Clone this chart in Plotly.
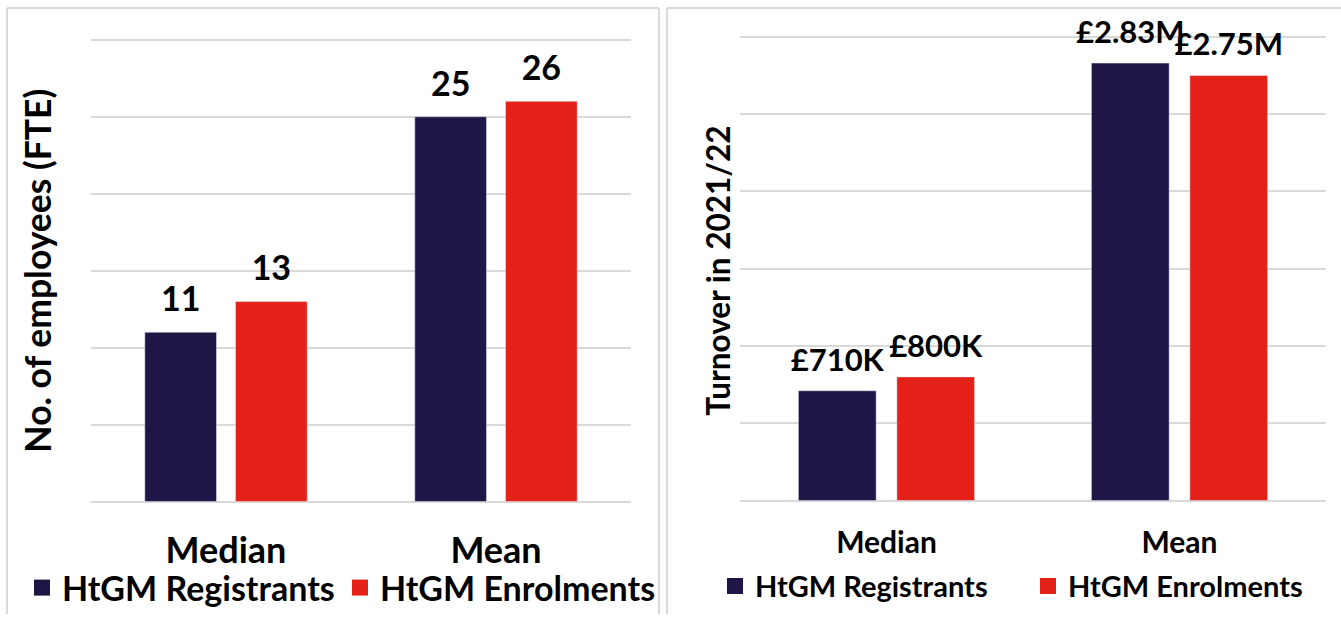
import plotly.graph_objects as go

categories = ["Median", "Mean"]
series_names = ["HtGM Registrants", "HtGM Enrolments"]

employees_registrants = [11, 25]
employees_enrolments = [13, 26]
employees_labels_registrants = ["11", "25"]
employees_labels_enrolments = ["13", "26"]

turnover_registrants = [710000, 2830000]
turnover_enrolments = [800000, 2750000]
turnover_labels_registrants = ["£710K", "£2.83M"]
turnover_labels_enrolments = ["£800K", "£2.75M"]

NAVY = "#1F1547"
RED = "#E32119"
GRID = "#D9D9D9"
FONT = "Lato"
BLACK = "#000000"

W, H = 1341, 617


def px_x(v):
    return v / W


def px_y(v):
    return 1 - v / H


def bold(size):
    return dict(family=FONT, size=size, color=BLACK, weight="bold")


fig = go.Figure()

panels = [
    ("x", "y", employees_registrants, employees_enrolments,
     employees_labels_registrants, employees_labels_enrolments, 34, 18.4),
    ("x2", "y2", turnover_registrants, turnover_enrolments,
     turnover_labels_registrants, turnover_labels_enrolments, 31, 18),
]

for xa, ya, v_reg, v_enr, l_reg, l_enr, fsize, msize in panels:
    for vals, col, nm in [(v_reg, NAVY, series_names[0]), (v_enr, RED, series_names[1])]:
        fig.add_trace(go.Bar(x=categories, y=vals, name=nm, marker_color=col,
                             showlegend=False, hoverinfo="x+y+name", xaxis=xa, yaxis=ya))
    # value labels, grouped to sit above their bars
    for vals, labels, nm in [(v_reg, l_reg, series_names[0]), (v_enr, l_enr, series_names[1])]:
        fig.add_trace(go.Scatter(x=categories, y=vals, text=labels, name=nm,
                                 mode="markers+text", orientation="v",
                                 textposition="top center", textfont=bold(fsize),
                                 marker=dict(size=msize, color="rgba(0,0,0,0)"),
                                 cliponaxis=False, showlegend=False, hoverinfo="skip",
                                 xaxis=xa, yaxis=ya))

# Legend entries (square swatches); orientation 'h' keeps them out of the vertical grouping
for leg, xa, ya in [("legend", "x", "y"), ("legend2", "x2", "y2")]:
    for nm, col in zip(series_names, [NAVY, RED]):
        fig.add_trace(go.Scatter(x=[None], y=[None], mode="markers", name=nm,
                                 orientation="h",
                                 marker=dict(symbol="square", size=16, color=col),
                                 xaxis=xa, yaxis=ya, legend=leg))

axis_common = dict(showline=False, zeroline=False, ticks="", fixedrange=True)

border = dict(color=GRID, width=2)

fig.update_layout(
    width=W, height=H,
    margin=dict(l=0, r=0, t=0, b=0),
    paper_bgcolor="white", plot_bgcolor="white",
    barmode="group", bargap=0.328, bargroupgap=0.21,
    scattermode="group", scattergap=0.328,
    font=dict(family=FONT, color=BLACK),
    xaxis=dict(domain=[px_x(91), px_x(631)], anchor="y", type="category",
               tickfont=bold(36), ticklabelstandoff=23, showgrid=False, **axis_common),
    yaxis=dict(domain=[px_y(505.55), px_y(38.45)], anchor="x", range=[-0.1, 30.1],
               tick0=0, dtick=5, showticklabels=False, showgrid=True,
               gridcolor=GRID, gridwidth=2, **axis_common),
    xaxis2=dict(domain=[px_x(740), px_x(1326)], anchor="y2", type="category",
                tickfont=bold(30), ticklabelstandoff=20, showgrid=False, **axis_common),
    yaxis2=dict(domain=[px_y(504.55), px_y(35.45)], anchor="x2", range=[-10000, 3010000],
                tick0=0, dtick=500000, showticklabels=False, showgrid=True,
                gridcolor=GRID, gridwidth=2, **axis_common),
    legend=dict(orientation="h", x=px_x(22), y=px_y(591), xanchor="left", yanchor="middle",
                entrywidth=273, entrywidthmode="pixels", bgcolor="rgba(0,0,0,0)",
                font=bold(34)),
    legend2=dict(orientation="h", x=px_x(715), y=px_y(589), xanchor="left", yanchor="middle",
                 entrywidth=268, entrywidthmode="pixels", bgcolor="rgba(0,0,0,0)",
                 font=bold(29)),
    annotations=[
        dict(text="No. of employees (FTE)", xref="paper", yref="paper",
             x=px_x(38), y=px_y(272), xanchor="center", yanchor="middle",
             textangle=-90, showarrow=False, font=bold(35.5)),
        dict(text="Turnover in 2021/22", xref="paper", yref="paper",
             x=px_x(718), y=px_y(272), xanchor="center", yanchor="middle",
             textangle=-90, showarrow=False, font=bold(31.5)),
    ],
    shapes=[
        dict(type="line", xref="paper", yref="paper", x0=px_x(7), x1=px_x(7),
             y0=0, y1=px_y(8), line=border, layer="below"),
        dict(type="line", xref="paper", yref="paper", x0=px_x(7), x1=px_x(659),
             y0=px_y(8), y1=px_y(8), line=border, layer="below"),
        dict(type="line", xref="paper", yref="paper", x0=px_x(659), x1=px_x(659),
             y0=0, y1=px_y(8), line=border, layer="below"),
        dict(type="line", xref="paper", yref="paper", x0=px_x(667), x1=px_x(667),
             y0=0, y1=px_y(8), line=border, layer="below"),
        dict(type="line", xref="paper", yref="paper", x0=px_x(667), x1=1,
             y0=px_y(8), y1=px_y(8), line=border, layer="below"),
    ],
)

fig.write_html("out.html",
               config={"displayModeBar": False},
               post_script="document.body.style.margin='0px';document.body.style.overflow='hidden';")
